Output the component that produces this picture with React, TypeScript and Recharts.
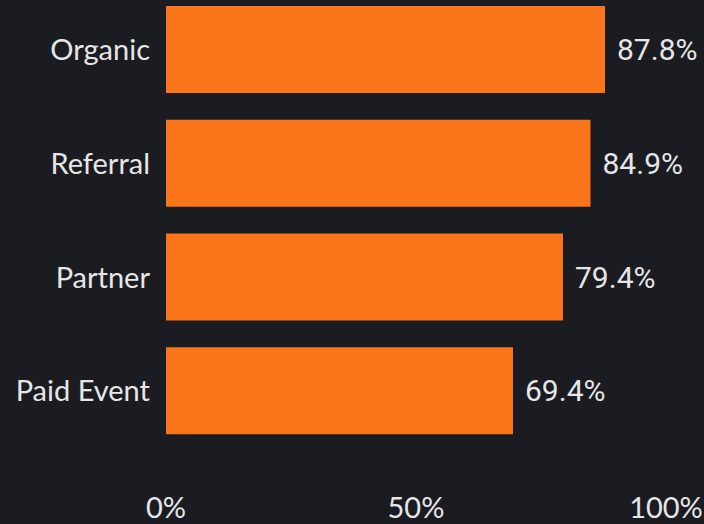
import { BarChart, Bar, XAxis, YAxis, LabelList } from "recharts";

const channels = ["Organic", "Referral", "Partner", "Paid Event"];
const rates = [87.8, 84.9, 79.4, 69.4];
const xTicks = [0, 50, 100];

const data = channels.map((name, i) => ({ name, rate: rates[i] }));

const BG = "#1b1b22";
const TEXT = "#e6e6e6";
const ORANGE = "#fa7519";

// value label drawn right of the bar end
const ValueLabel = (props: any) => {
  const { x, y, width, height, value } = props;
  return (
    <text
      x={Number(x) + Number(width) + 12}
      y={Number(y) + Number(height) / 2}
      dy="0.355em"
      fill={TEXT}
      fontSize={30}
      fontFamily="Roboto"
      textAnchor="start"
    >
      {`${value}%`}
    </text>
  );
};

export default function App() {
  return (
    <div
      style={{
        position: "fixed",
        left: 0,
        top: 0,
        width: 704,
        height: 524,
        background: BG,
        overflow: "hidden",
      }}
    >
      <div style={{ position: "absolute", left: 0, top: -7 }}>
        <BarChart
          width={704}
          height={531}
          data={data}
          layout="vertical"
          margin={{ top: 0, right: 38, left: 0, bottom: 0 }}
        >
          <XAxis
            type="number"
            domain={[0, 100]}
            ticks={xTicks}
            tickFormatter={(v) => `${v}%`}
            axisLine={false}
            tickLine={false}
            tickSize={0}
            tickMargin={49}
            height={76}
            interval={0}
            tick={{ fill: TEXT, fontSize: 29, fontFamily: "Lato" }}
          />
          <YAxis
            type="category"
            dataKey="name"
            width={166}
            axisLine={false}
            tickLine={false}
            tickSize={0}
            tickMargin={16}
            tick={{ fill: TEXT, fontSize: 29, fontFamily: "Lato" }}
          />
          <Bar dataKey="rate" fill={ORANGE} barSize={87} isAnimationActive={false}>
            <LabelList dataKey="rate" content={ValueLabel} />
          </Bar>
        </BarChart>
      </div>
    </div>
  );
}
